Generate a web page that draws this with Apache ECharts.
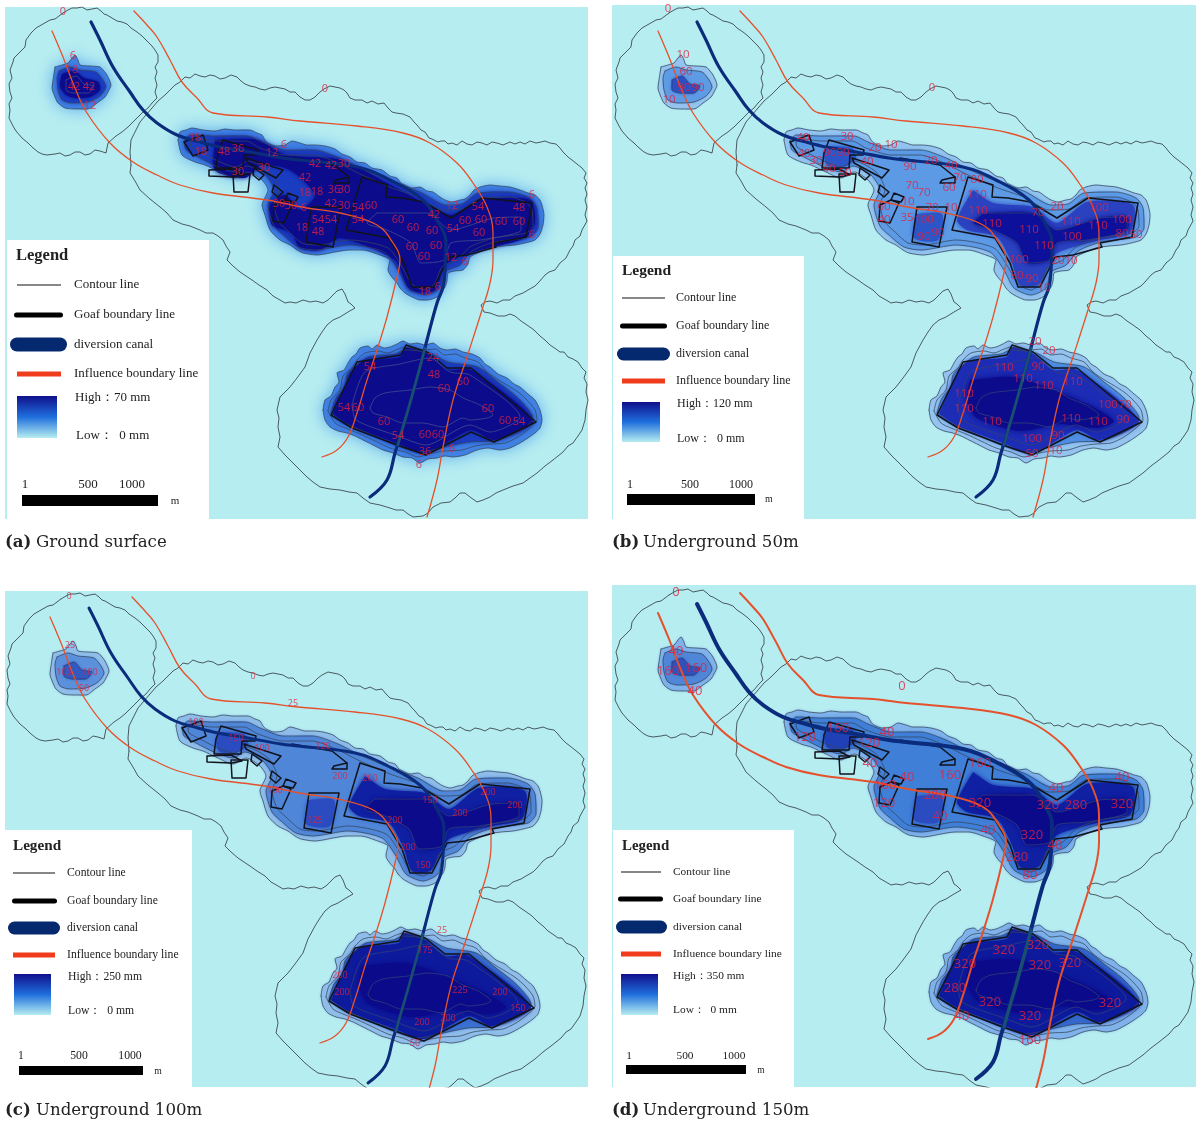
<!DOCTYPE html>
<html>
<head>
<meta charset="utf-8">
<script src="https://cdn.jsdelivr.net/npm/echarts@6/dist/echarts.min.js"></script>
<style>
  html, body { margin: 0; background: #fff; }
  #main { width: 1198px; height: 1123px; }
</style>
</head>
<body>
<div id="main"></div>
<script>
// map outlines, in map units (shared by the four panels)
const zeroWest = [[63,13],[68,10],[72,8],[77,8],[82,7],[87,10],[92,9],[97,8],[101,11],[104,14],[107,15],[112,18],[117,21],[122,22],[127,24],[131,28],[137,32],[142,36],[147,41],[152,46],[155,50],[158,55],[158,62],[155,67],[157,72],[155,78],[157,85],[155,92],[157,98],[152,103],[148,108],[143,112],[138,117],[133,122],[128,127],[122,132],[116,136],[108,143],[106,153],[100,151],[95,150],[90,154],[85,155],[80,152],[75,152],[70,155],[65,156],[60,153],[55,154],[47,155],[42,154],[38,152],[32,147],[28,143],[22,138],[16,131],[13,126],[9,118],[10,110],[9,104],[12,98],[10,92],[9,84],[12,78],[10,70],[13,62],[14,58],[19,53],[25,47],[26,40],[31,33],[36,28],[43,24],[50,20],[55,19],[63,13]]
const zeroEast = [[131,165],[130,152],[131,140],[136,130],[140,122],[146,115],[152,108],[158,101],[165,95],[170,90],[175,85],[180,82],[185,77],[190,78],[195,74],[200,76],[205,77],[210,75],[215,76],[220,79],[225,78],[231,75],[237,77],[241,81],[245,84],[250,86],[255,87],[260,89],[265,90],[270,88],[275,87],[280,88],[285,89],[290,92],[295,92],[300,97],[305,100],[310,100],[315,97],[320,92],[324,89],[330,86],[335,87],[340,88],[344,90],[347,93],[350,98],[355,100],[362,100],[367,103],[372,101],[378,104],[384,103],[388,108],[392,112],[396,113],[403,114],[410,117],[414,122],[417,125],[421,130],[425,132],[429,138],[432,139],[438,142],[441,141],[445,141],[448,144],[452,143],[457,145],[462,141],[467,144],[472,145],[477,142],[482,143],[487,145],[492,142],[497,143],[503,145],[510,142],[515,144],[520,142],[525,144],[530,141],[536,143],[541,142],[545,141],[550,143],[556,144],[560,148],[563,152],[568,157],[572,160],[577,164],[582,168],[586,173],[584,178],[587,183],[585,188],[587,194],[585,200],[587,207],[585,215],[587,221],[582,230],[580,236],[575,240],[573,246],[570,250],[566,258],[560,263],[555,270],[549,272],[545,275],[539,282],[535,286],[528,290],[523,293],[515,296],[510,300],[503,300],[497,303],[490,301],[485,302],[481,305],[484,312],[490,313],[498,316],[505,316],[510,314],[515,316],[521,321],[527,325],[534,330],[540,336],[545,340],[550,345],[556,349],[560,352],[564,352],[568,357],[573,359],[578,362],[582,368],[586,372],[584,378],[587,384],[586,392],[588,400],[586,410],[585,420],[582,430],[578,436],[573,443],[568,446],[563,452],[553,460],[545,466],[537,473],[530,478],[523,483],[513,486],[503,490],[496,493],[490,497],[483,500],[477,502],[470,497],[465,493],[460,493],[455,498],[450,502],[441,503],[433,507],[428,513],[423,516],[413,517],[408,514],[403,510],[396,510],[390,508],[380,505],[370,503],[363,498],[357,493],[349,492],[340,490],[330,489],[320,487],[313,482],[307,477],[300,470],[293,463],[285,455],[278,447],[280,437],[278,427],[279,418],[277,410],[280,397],[285,392],[290,387],[297,378],[305,367],[310,353],[317,340],[322,332],[327,325],[333,320],[340,317],[348,312],[355,308],[351,304],[348,302],[345,294],[342,289],[337,291],[333,295],[328,300],[323,303],[316,301],[310,302],[303,300],[296,303],[290,302],[285,303],[280,300],[273,296],[267,290],[259,285],[252,280],[246,276],[240,272],[233,266],[227,260],[230,252],[226,246],[223,240],[218,236],[213,233],[206,233],[200,230],[190,226],[182,224],[173,220],[167,213],[160,207],[150,199],[140,190],[135,181],[130,173],[131,165]]
const canal = [[91,22],[100,40],[113,67],[130,92],[143,110],[157,123],[177,135],[200,142],[220,147],[250,152],[283,158],[300,160],[357,167],[390,180],[423,200],[437,220],[446,243],[445,270],[443,287],[437,303],[427,340],[420,367],[410,403],[403,427],[395,453],[387,480],[370,497]]
const canalSouth = [[425,348],[420,367],[410,403],[403,427],[398,445]]
const influenceNorth = [[134,11],[147,25],[157,37],[170,60],[182,82],[197,98],[213,113],[267,117],[300,121],[357,126],[403,133],[430,143],[457,163],[473,183],[487,207],[493,233],[493,260],[490,283],[482,310],[467,357],[453,400],[443,447],[437,480],[427,517]]
const influenceSouth = [[52,31],[63,57],[75,88],[87,113],[110,143],[133,162],[157,175],[180,185],[213,193],[267,200],[307,208],[340,213],[377,225],[393,243],[400,260],[397,277],[387,317],[377,350],[367,380],[357,413],[348,437],[337,450],[322,457]]

const goafs = [
  [[184,142],[203,135],[208,150],[193,156],[184,142]],
  [[223,140],[258,150],[257,155],[244,155],[243,168],[216,168],[218,153],[223,140]],
  [[209,170],[233,169],[244,175],[233,177],[209,176],[209,170]],
  [[233,174],[250,174],[248,192],[234,192],[233,174]],
  [[246,158],[283,170],[276,178],[248,163],[246,158]],
  [[254,168],[264,175],[259,180],[253,175],[254,168]],
  [[274,185],[283,192],[278,197],[272,192],[274,185]],
  [[288,193],[298,197],[295,202],[285,200],[288,193]],
  [[274,205],[285,200],[293,203],[284,223],[273,221],[274,205]],
  [[311,207],[341,207],[333,247],[306,242],[311,207]],
  [[336,180],[349,177],[349,183],[334,183],[336,180]],
  [[294,158],[334,165],[349,177]],
  [[362,177],[387,185],[386,197],[402,198],[424,202],[451,218],[482,198],[532,203],[526,237],[494,243],[496,247],[467,255],[449,257],[444,267],[434,287],[412,287],[404,263],[389,238],[346,230],[362,177]],
  [[331,415],[357,362],[401,355],[406,345],[427,352],[447,368],[471,368],[536,422],[494,442],[471,432],[426,455],[397,445],[352,428],[331,415]]
]

// mined-out blobs: outer contour, inner contours, dark cores
const nwOuter = [[55,67],[62,65],[68,63],[72,58],[75,55],[78,60],[80,65],[90,66],[100,67],[104,71],[107,75],[111,85],[108,92],[105,97],[97,103],[88,109],[76,109],[65,108],[58,103],[55,97],[52,88],[53,80],[55,67]]
const nwMid = [[59,71],[70,67],[80,70],[96,72],[103,80],[106,87],[100,96],[88,102],[72,103],[62,100],[58,90],[57,78],[59,71]]
const nwCore = [[62,74],[74,71],[84,78],[98,82],[100,90],[90,97],[76,98],[66,95],[60,86],[62,74]]
const nwInner = [[66,80],[76,76],[84,84],[94,86],[88,93],[74,93],[66,90],[66,80]]
const centralOuter = [[178,140],[180,132],[186,130],[192,128],[203,130],[215,131],[225,129],[235,130],[250,130],[257,133],[262,135],[265,140],[268,143],[276,146],[285,145],[292,141],[300,143],[307,145],[315,145],[325,146],[335,149],[342,154],[350,157],[357,162],[365,163],[372,168],[382,170],[390,176],[397,178],[401,183],[405,185],[412,188],[420,187],[427,191],[433,192],[440,197],[445,200],[452,202],[460,200],[465,199],[470,195],[474,190],[480,187],[490,185],[500,186],[510,187],[520,190],[528,193],[535,195],[540,200],[542,205],[544,215],[543,225],[540,234],[535,240],[525,243],[515,245],[503,246],[490,248],[480,252],[470,257],[468,264],[463,270],[455,271],[448,273],[447,281],[445,287],[441,292],[437,297],[428,300],[420,300],[412,297],[405,293],[400,288],[397,283],[391,276],[388,270],[389,264],[390,260],[377,254],[363,250],[349,250],[335,252],[325,254],[317,255],[303,253],[297,250],[290,245],[280,240],[270,230],[265,215],[262,205],[268,190],[262,180],[248,172],[235,178],[220,172],[205,165],[195,162],[182,155],[178,140]]
const centralMid = [[184,141],[190,135],[215,136],[248,136],[262,142],[285,150],[315,150],[340,158],[362,169],[395,183],[420,192],[445,205],[462,204],[478,193],[510,192],[530,198],[537,208],[538,228],[530,237],[495,242],[472,251],[460,265],[445,272],[440,288],[425,295],[408,288],[398,270],[384,252],[350,245],[315,250],[298,247],[283,235],[274,226],[268,205],[274,190],[265,175],[247,166],[235,172],[218,167],[198,157],[186,150],[184,141]]
const centralRing = [[190,142],[197,139],[214,141],[246,141],[260,148],[285,155],[314,155],[338,163],[360,174],[392,188],[418,197],[443,210],[463,209],[480,198],[510,197],[527,203],[532,210],[533,226],[526,233],[494,238],[470,247],[457,260],[442,267],[435,283],[425,290],[412,284],[402,267],[388,248],[350,240],[318,245],[302,243],[288,231],[279,222],[274,205],[279,190],[270,172],[248,161],[236,167],[220,162],[202,153],[191,147],[190,142]]
const centralCoreFull = [[215,140],[258,140],[285,155],[340,160],[400,190],[450,215],[480,200],[530,200],[535,222],[525,238],[470,253],[445,265],[435,290],[410,290],[395,260],[340,238],[320,250],[300,248],[293,235],[285,230],[272,225],[270,205],[285,195],[300,210],[315,195],[290,170],[262,165],[245,178],[215,170],[215,140]]
const centralBandEast = [[367,190],[387,203],[427,207],[451,223],[481,202],[527,205],[524,233],[494,240],[451,253],[441,270],[432,285],[414,285],[406,263],[391,237],[361,230],[351,220],[367,190]]
const centralCoreEast = [[377,213],[427,213],[451,230],[494,218],[521,217],[521,230],[481,240],[451,243],[444,260],[421,263],[411,243],[387,230],[367,223],[377,213]]
const centralWestPatch = [[222,146],[246,148],[250,158],[240,166],[222,166],[218,156],[222,146]]
const centralSouthPatch = [[310,214],[336,214],[332,240],[308,238],[310,214]]
const southOuter = [[323,410],[325,400],[331,396],[335,387],[339,382],[337,373],[344,370],[348,363],[352,357],[356,354],[360,348],[368,346],[372,349],[377,345],[384,348],[390,347],[397,344],[403,341],[410,344],[417,343],[425,345],[433,343],[440,348],[447,350],[455,349],[463,352],[472,354],[480,358],[485,364],[490,367],[498,374],[507,378],[514,384],[520,387],[528,394],[535,400],[540,410],[542,420],[540,428],[535,433],[528,438],[520,443],[510,448],[500,450],[488,448],[477,450],[465,455],[453,457],[445,456],[437,458],[428,459],[420,463],[412,458],[403,457],[393,453],[383,450],[373,445],[363,440],[355,436],[347,433],[338,431],[330,427],[325,420],[323,410]]
const southRing = [[328,411],[331,400],[340,390],[343,376],[352,368],[357,360],[365,353],[378,351],[388,353],[398,349],[405,347],[415,349],[425,350],[435,349],[445,355],[455,354],[465,358],[478,362],[487,372],[497,379],[507,385],[518,392],[527,400],[535,410],[537,420],[530,428],[518,437],[505,443],[490,444],[475,446],[462,450],[445,451],[428,454],[418,457],[405,452],[390,448],[375,441],[360,434],[345,428],[335,423],[328,411]]
const southMid = [[331,413],[336,398],[345,387],[347,375],[356,366],[368,357],[395,354],[405,350],[430,353],[448,362],[478,367],[498,382],[518,398],[533,418],[522,430],[495,441],[470,442],[445,447],[420,452],[395,445],[365,432],[342,422],[331,413]]
const southBand = [[333,414],[358,364],[401,357],[406,347],[427,354],[447,370],[471,370],[533,421],[494,440],[471,430],[426,453],[397,443],[352,426],[333,414]]
const southCore = [[364,380],[407,377],[447,390],[487,407],[508,421],[492,428],[454,424],[414,431],[371,418],[361,400],[364,380]]
const southInner = [[370,408],[375,398],[385,393],[410,390],[430,387],[450,390],[463,398],[480,405],[493,415],[487,418],[470,420],[463,418],[443,427],[423,423],[403,423],[387,417],[373,413],[370,408]]
const southGrey = [[352,405],[365,372],[400,364],[430,358],[450,372],[470,375],[520,417],[490,432],[470,425],[426,445],[398,436],[356,420],[352,405]]

// contour labels of each panel: [x, y, text]
const labelsA = [[63,12,'0'],[73,56,'6'],[72,70,'18'],[74,87,'42'],[89,87,'42'],[90,106,'12'],[195,138,'18'],[201,152,'18'],[224,152,'48'],[238,149,'36'],[238,172,'30'],[272,153,'12'],[284,145,'6'],[264,168,'30'],[279,204,'30'],[291,206,'30'],[325,89,'0'],[315,164,'42'],[331,166,'42'],[344,164,'30'],[305,178,'42'],[305,193,'18'],[317,192,'18'],[334,190,'36'],[344,190,'30'],[331,204,'42'],[344,206,'30'],[358,208,'54'],[371,206,'60'],[304,208,'6'],[318,220,'54'],[331,220,'54'],[302,228,'18'],[318,232,'48'],[358,220,'54'],[398,220,'60'],[413,228,'60'],[432,231,'60'],[434,215,'42'],[465,221,'60'],[481,220,'60'],[501,222,'60'],[519,222,'60'],[453,229,'54'],[479,233,'60'],[478,207,'54'],[519,208,'48'],[452,206,'12'],[532,195,'6'],[532,235,'6'],[412,247,'60'],[436,246,'60'],[424,257,'60'],[451,258,'12'],[465,262,'6'],[425,292,'18'],[438,287,'6'],[433,358,'24'],[434,375,'48'],[463,382,'60'],[444,389,'60'],[488,409,'60'],[505,421,'60'],[519,422,'54'],[344,408,'54'],[358,408,'60'],[370,367,'54'],[384,422,'60'],[398,436,'54'],[425,435,'60'],[438,435,'60'],[452,449,'6'],[425,452,'36'],[419,465,'6']]
const labelsB = [[62,9,'0'],[77,55,'10'],[80,72,'60'],[78,88,'90'],[92,88,'90'],[63,100,'10'],[326,88,'0'],[197,138,'40'],[198,154,'40'],[210,161,'30'],[224,153,'90'],[237,153,'90'],[241,137,'30'],[269,148,'20'],[285,145,'10'],[261,162,'40'],[223,169,'40'],[239,173,'50'],[278,207,'60'],[278,220,'40'],[304,167,'90'],[325,161,'20'],[345,166,'40'],[354,178,'70'],[371,180,'80'],[306,186,'70'],[318,193,'70'],[343,188,'60'],[302,202,'10'],[345,208,'10'],[326,208,'70'],[301,218,'35'],[318,220,'100'],[318,237,'90'],[332,233,'90'],[371,195,'110'],[372,211,'110'],[386,224,'110'],[423,230,'110'],[438,246,'110'],[413,260,'100'],[411,276,'80'],[426,279,'90'],[438,288,'10'],[452,261,'20'],[465,261,'10'],[432,213,'70'],[451,207,'20'],[465,222,'110'],[466,237,'100'],[492,226,'110'],[493,208,'100'],[516,220,'100'],[516,234,'80'],[530,235,'50'],[429,342,'20'],[443,351,'20'],[432,367,'90'],[398,368,'110'],[417,379,'110'],[438,386,'110'],[467,382,'110'],[358,394,'110'],[358,409,'110'],[386,422,'110'],[426,439,'100'],[452,436,'90'],[465,419,'110'],[492,422,'110'],[502,405,'100'],[519,405,'70'],[517,420,'90'],[426,454,'50'],[450,451,'10']]
const labelsC = [[71,10,'0'],[72,59,'25'],[66,86,'100'],[92,86,'100'],[86,102,'50'],[255,90,'0'],[295,117,'25'],[198,136,'100'],[238,152,'150'],[264,162,'100'],[325,160,'120'],[372,192,'200'],[342,190,'200'],[490,206,'200'],[517,219,'200'],[397,234,'200'],[462,227,'200'],[432,214,'150'],[410,261,'200'],[425,279,'150'],[277,204,'100'],[317,234,'125'],[444,344,'25'],[427,364,'175'],[342,389,'200'],[344,406,'200'],[462,404,'225'],[502,406,'200'],[520,422,'150'],[424,436,'200'],[450,432,'200'],[417,457,'50']]
const labelsD = [[70,10,'0'],[70,69,'40'],[62,89,'160'],[90,86,'160'],[89,109,'40'],[296,104,'0'],[199,155,'120'],[232,146,'160'],[263,161,'120'],[281,150,'40'],[264,181,'40'],[279,203,'160'],[278,221,'120'],[301,195,'40'],[374,181,'160'],[344,193,'160'],[374,221,'320'],[329,213,'280'],[334,234,'40'],[442,223,'320'],[470,223,'280'],[450,206,'40'],[516,195,'40'],[516,222,'320'],[426,253,'320'],[449,263,'40'],[424,293,'80'],[411,275,'280'],[382,248,'40'],[432,363,'320'],[398,368,'320'],[434,383,'320'],[464,381,'320'],[359,382,'320'],[349,406,'280'],[384,420,'320'],[424,434,'320'],[504,421,'320'],[356,434,'40'],[424,458,'160']]

const legendNames = ['Contour line', 'Goaf boundary line', 'diversion canal', 'Influence boundary line']
const scaleTicks = ['1', '500', '1000']
const highValues = ['70 mm', '120 mm', '250 mm', '350 mm']
const captions = ['Ground surface', 'Underground 50m', 'Underground 100m', 'Underground 150m']
const captionTags = ['(a)', '(b)', '(c)', '(d)']

const panels = [
  { left: 5, top: 7, width: 583, height: 512, x: [5, 588], y: [7, 519], labels: labelsA, fontSize: 11, canalW: 3.2, inflW: 1.3, capY: 543, innerLine: '#3f4c8e',
    halo: '#5aa8ef', haloBlur: 16,
    layers: [
      [nwOuter, '#3f80e2', 12], [nwMid, '#1a3cc0', 4], [nwCore, '#0b0b8c', 3],
      [centralOuter, '#3f80e2', 12], [centralMid, '#1a3cc0', 5], [centralCoreFull, '#0b0b8c', 4],
      [southOuter, '#3f80e2', 12], [southMid, '#1a3cc0', 4], [southBand, '#0b0b8c', 5]
    ] },
  { left: 612, top: 5, width: 584, height: 514, x: [6, 590], y: [5, 519], labels: labelsB, fontSize: 11.5, canalW: 3.2, inflW: 1.3, capY: 543, innerLine: '#2f3f78',
    halo: '#8cc4ee', haloBlur: 2,
    layers: [
      [nwOuter, '#93c3ee', 2], [nwMid, '#5d9be4', 2], [nwInner, '#2c4fc4', 3],
      [centralOuter, '#93c3ee', 2], [centralMid, '#5c9ae6', 3], [centralWestPatch, '#2c55c8', 5], [centralSouthPatch, '#2c55c8', 5], [centralBandEast, '#2a42c0', 5], [centralCoreEast, '#0d109a', 5],
      [southOuter, '#93c3ee', 2], [southMid, '#4f8ee2', 3], [southBand, '#1c2cb4', 5], [southCore, '#0b0b8c', 6]
    ] },
  { left: 5, top: 591, width: 583, height: 496, x: [7, 590], y: [5, 501], labels: labelsC, fontSize: 9, canalW: 3, inflW: 1.3, capY: 1111, innerLine: '#2f3f78',
    halo: '#8cc0ec', haloBlur: 3,
    layers: [
      [nwOuter, '#8fbdea', 2], [nwMid, '#5b90dc', 2], [nwInner, '#3358c0', 3],
      [centralOuter, '#8fbdea', 2], [centralMid, '#4f86d8', 3], [centralWestPatch, '#2a4cc0', 5], [centralSouthPatch, '#2a4cc0', 5], [centralBandEast, '#1020a2', 5], [centralCoreEast, '#0b0b8c', 5],
      [southOuter, '#8fbdea', 2], [southMid, '#3a70d0', 3], [southBand, '#0e1a9c', 5], [southCore, '#0a0a8a', 6]
    ] },
  { left: 612, top: 585, width: 584, height: 502, x: [6, 590], y: [3, 505], labels: labelsD, fontSize: 13, canalW: 4, inflW: 2, capY: 1111, innerLine: '#2f3f78',
    halo: '#86b8ea', haloBlur: 3,
    layers: [
      [nwOuter, '#7fb2ea', 2], [nwMid, '#4f86d8', 2], [nwInner, '#3050bc', 3],
      [centralOuter, '#7fb2ea', 2], [centralMid, '#3f7fd8', 3], [centralWestPatch, '#2040b8', 5], [centralSouthPatch, '#2a4cc0', 5], [centralBandEast, '#1020a2', 5], [centralCoreEast, '#0a0a8a', 5],
      [southOuter, '#7fb2ea', 2], [southMid, '#3468cc', 3], [southBand, '#0e1a9c', 5], [southCore, '#0a0a8a', 6]
    ] }
]

// legend placement of each panel, in page pixels
const legends = [
  { box: [7, 240, 202, 279], title: [16, 256], font: 13, textX: 74, lineX: [17, 61], rowY: [285, 315, 344.5, 374], goaf: [14, 63], pill: [10, 67, 14], ramp: [17, 396, 40, 42], high: [75, 398], low: [76, 436], ticks: [[25, 485], [88, 485], [132, 485]], bar: [22, 495, 136, 11], m: [175, 501] },
  { box: [613, 256, 191, 263], title: [622, 271], font: 12, textX: 676, lineX: [622, 665], rowY: [298, 326, 354, 381], goaf: [620, 667], pill: [617, 670, 13], ramp: [622, 402, 38, 40], high: [677, 404], low: [677, 439], ticks: [[630, 485], [690, 485], [741, 485]], bar: [627, 494, 128, 11], m: [769, 499] },
  { box: [5, 830, 187, 257], title: [13, 846], font: 11.7, textX: 67, lineX: [13, 55], rowY: [873, 901, 928, 955], goaf: [12, 57], pill: [8, 60, 13], ramp: [14, 974, 37, 41], high: [68, 977], low: [68, 1011], ticks: [[21, 1056], [79, 1056], [130, 1056]], bar: [19, 1066, 124, 9], m: [158, 1071] },
  { box: [613, 830, 181, 257], title: [622, 846], font: 11.4, textX: 673, lineX: [621, 661], rowY: [872, 899, 927, 954], goaf: [618, 663], pill: [616, 667, 13], ramp: [621, 974, 37, 41], high: [673, 976], low: [673, 1010], ticks: [[629, 1056], [685, 1056], [734, 1056]], bar: [626, 1065, 120, 9], m: [761, 1071] }
]

const serif = '"Liberation Serif", serif'
const sea = '#b6edf0'

function fillSeries(i, p) {
  return {
    type: 'custom',
    xAxisIndex: i,
    yAxisIndex: i,
    silent: true,
    animation: false,
    z: 2,
    data: p.layers.map((l, k) => [k]),
    renderItem: function (params, api) {
      const l = p.layers[params.dataIndex]
      const outer = l[0] === nwOuter || l[0] === centralOuter || l[0] === southOuter
      return {
        type: 'polygon',
        shape: { points: l[0].map(c => api.coord(c)), smooth: 0.25 },
        style: {
          fill: l[1],
          shadowBlur: outer ? p.haloBlur : l[2],
          shadowColor: outer ? p.halo : l[1]
        }
      }
    }
  }
}

function lineSeries(i, data, color, width, z, opacity, smooth) {
  return {
    type: 'line',
    xAxisIndex: i,
    yAxisIndex: i,
    data: data,
    symbol: 'none',
    silent: true,
    animation: false,
    smooth: smooth || false,
    z: z,
    lineStyle: { color: color, width: width, opacity: opacity === undefined ? 1 : opacity, cap: 'round', join: 'round' }
  }
}

const grids = []
const xAxes = []
const yAxes = []
const series = []
panels.forEach((p, i) => {
  grids.push({ left: p.left, top: p.top, width: p.width, height: p.height, backgroundColor: sea, show: true, borderWidth: 0 })
  xAxes.push({ type: 'value', gridIndex: i, min: p.x[0], max: p.x[1], show: false })
  yAxes.push({ type: 'value', gridIndex: i, min: p.y[0], max: p.y[1], inverse: true, show: false })
  series.push(fillSeries(i, p))
  ;[nwOuter, nwMid, centralOuter, centralMid, centralRing, southOuter, southRing, southMid].forEach(r => {
    series.push(lineSeries(i, r, '#34465c', 0.9, 3, 0.85, 0.25))
  })
  ;[nwInner, southGrey, southInner, centralCoreEast].forEach(r => {
    series.push(lineSeries(i, r, p.innerLine, 0.9, 3, 0.9, 0.25))
  })
  series.push(lineSeries(i, zeroWest, '#3c4a50', 0.9, 3))
  series.push(lineSeries(i, zeroEast, '#3c4a50', 0.9, 3))
  goafs.forEach(g => series.push(lineSeries(i, g, '#10131c', 1.5, 4)))
  series.push(lineSeries(i, canal, '#0b2c7c', p.canalW, 5, 1, 0.4))
  series.push(lineSeries(i, canalSouth, '#1b4f72', p.canalW * 0.8, 6, 1, 0.4))
  series.push(lineSeries(i, influenceNorth, '#e5512c', p.inflW, 6, 1, 0.4))
  series.push(lineSeries(i, influenceSouth, '#e5512c', p.inflW, 6, 1, 0.4))
  series.push({
    type: 'scatter',
    xAxisIndex: i,
    yAxisIndex: i,
    data: p.labels,
    symbolSize: 1,
    itemStyle: { color: 'transparent' },
    silent: true,
    animation: false,
    z: 7,
    label: {
      show: true,
      position: 'inside',
      formatter: o => o.value[2],
      color: '#e4203e',
      fontSize: p.fontSize,
      fontFamily: '"Open Sans", sans-serif'
    }
  })
})

function txt(x, y, text, font, align, weight) {
  return {
    type: 'text',
    z: 21,
    silent: true,
    style: { x: x, y: y, text: text, fontSize: font, fontFamily: serif, fontWeight: weight || 'normal', fill: '#222', verticalAlign: 'middle', align: align || 'left' }
  }
}

const elements = []
legends.forEach((g, i) => {
  const add = (shape, fill) => elements.push({ type: 'rect', z: 20, silent: true, shape: shape, style: { fill: fill } })
  add({ x: g.box[0], y: g.box[1], width: g.box[2], height: g.box[3] }, '#fff')
  elements.push(txt(g.title[0], g.title[1], 'Legend', g.font + 3.5, 'left', 'bold'))
  legendNames.forEach((n, k) => elements.push(txt(g.textX, g.rowY[k], n, g.font)))
  add({ x: g.lineX[0], y: g.rowY[0] - 0.5, width: g.lineX[1] - g.lineX[0], height: 1 }, '#111')
  add({ x: g.goaf[0], y: g.rowY[1] - 2.5, width: g.goaf[1] - g.goaf[0], height: 5, r: 2.5 }, '#000')
  add({ x: g.pill[0], y: g.rowY[2] - g.pill[2] / 2, width: g.pill[1] - g.pill[0], height: g.pill[2], r: g.pill[2] / 2 }, '#05296e')
  add({ x: g.lineX[0], y: g.rowY[3] - 2.5, width: g.lineX[1] - g.lineX[0], height: 5 }, '#f03c1c')
  add({ x: g.ramp[0], y: g.ramp[1], width: g.ramp[2], height: g.ramp[3] }, new echarts.graphic.LinearGradient(0, 0, 0, 1, [
    { offset: 0, color: '#10108c' },
    { offset: 0.5, color: '#1f6fdd' },
    { offset: 1, color: '#b6edf0' }
  ]))
  elements.push(txt(g.high[0], g.high[1], 'High：' + highValues[i], g.font))
  elements.push(txt(g.low[0], g.low[1], 'Low：  0 mm', g.font))
  scaleTicks.forEach((t, k) => elements.push(txt(g.ticks[k][0], g.ticks[k][1], t, g.font, 'center')))
  add({ x: g.bar[0], y: g.bar[1], width: g.bar[2], height: g.bar[3] }, '#000')
  elements.push(txt(g.m[0], g.m[1], 'm', g.font - 2, 'center'))

  // captions under the panels
  const capX = panels[i].left
  elements.push({ type: 'text', z: 21, silent: true, style: { x: capX, y: panels[i].capY, text: captionTags[i], fontSize: 16.6, fontWeight: 'bold', fontFamily: '"DejaVu Serif", serif', fill: '#222', verticalAlign: 'middle' } })
  elements.push({ type: 'text', z: 21, silent: true, style: { x: capX + 31, y: panels[i].capY, text: captions[i], fontSize: 16.6, fontFamily: '"DejaVu Serif", serif', fill: '#222', verticalAlign: 'middle' } })
})

const chart = echarts.init(document.getElementById('main'), null, { renderer: 'canvas' })
chart.setOption({
  animation: false,
  backgroundColor: '#fff',
  grid: grids,
  xAxis: xAxes,
  yAxis: yAxes,
  series: series,
  graphic: { elements: elements }
})
</script>
</body>
</html>
